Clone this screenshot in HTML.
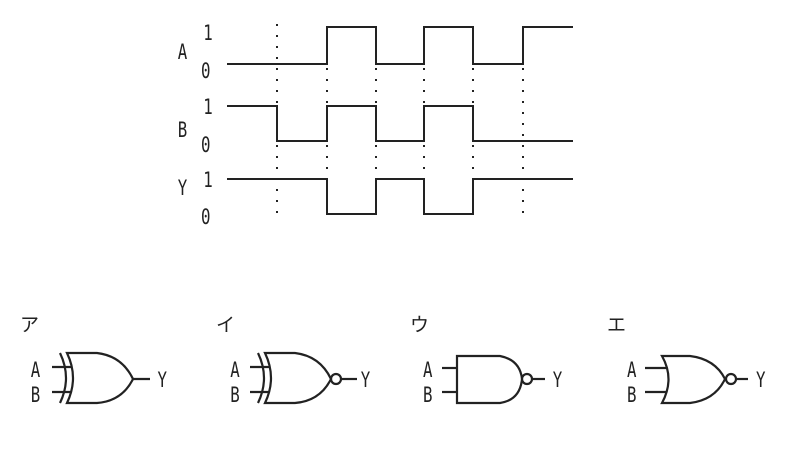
<!DOCTYPE html>
<html><head><meta charset="utf-8"><style>
html,body{margin:0;padding:0;background:#fff;}
svg{display:block;}
.t{font-family:"DejaVu Sans Mono","Liberation Mono",monospace;font-size:21px;fill:#222;}
.j{font-family:"Noto Sans CJK JP",sans-serif;font-size:19px;fill:#222;}
</style></head><body>
<svg width="793" height="453" viewBox="0 0 793 453" xmlns="http://www.w3.org/2000/svg">
<g stroke="#222" stroke-width="2" stroke-dasharray="2 9" fill="none">
<line x1="277" y1="24" x2="277" y2="218"/>
<line x1="523" y1="68" x2="523" y2="218"/>
<line x1="327" y1="68" x2="327" y2="106"/><line x1="327" y1="145" x2="327" y2="179"/>
<line x1="376" y1="68" x2="376" y2="106"/><line x1="376" y1="145" x2="376" y2="179"/>
<line x1="424" y1="68" x2="424" y2="106"/><line x1="424" y1="145" x2="424" y2="179"/>
<line x1="473" y1="68" x2="473" y2="106"/><line x1="473" y1="145" x2="473" y2="179"/>
</g>
<g stroke="#222" stroke-width="2" fill="none">
<polyline points="227,64 327,64 327,27 376,27 376,64 424,64 424,27 473,27 473,64 523,64 523,27 573,27"/>
<polyline points="227,106 277,106 277,141 327,141 327,106 376,106 376,141 424,141 424,106 473,106 473,141 573,141"/>
<polyline points="227,179 327,179 327,214 376,214 376,179 424,179 424,214 473,214 473,179 573,179"/>
</g>
<g class="t" transform="scale(0.75,1)">
<text x="237" y="59">A</text><text x="271" y="40">1</text><text x="268" y="78">0</text>
<text x="237" y="137">B</text><text x="271" y="114">1</text><text x="268" y="152">0</text>
<text x="237" y="195">Y</text><text x="271" y="187">1</text><text x="268" y="224">0</text>
</g>
<g class="j">
<text x="20" y="331">ア</text><text x="216" y="331">イ</text><text x="410" y="331">ウ</text><text x="607" y="331">エ</text>
</g>
<g class="t" transform="scale(0.75,1)">
<text x="41" y="377">A</text><text x="41" y="402">B</text><text x="210" y="387">Y</text>
<text x="307" y="377">A</text><text x="307" y="402">B</text><text x="481" y="387">Y</text>
<text x="564" y="377">A</text><text x="564" y="402">B</text><text x="737" y="387">Y</text>
<text x="836" y="377">A</text><text x="836" y="402">B</text><text x="1008" y="387">Y</text>
</g>
<g stroke="#222" stroke-width="2.2" fill="none">
<g>
<line x1="52" y1="367" x2="72" y2="367"/><line x1="52" y1="392" x2="72" y2="392"/>
<path d="M60,353 Q72,378 60,403"/>
<path d="M67,353 L97,353 Q122,356 133,379 Q122,401 97,403 L67,403 Q79,378 67,353 Z"/>
<line x1="133" y1="379" x2="150" y2="379"/>
</g>
<g transform="translate(198,0)">
<line x1="52" y1="367" x2="72" y2="367"/><line x1="52" y1="392" x2="72" y2="392"/>
<path d="M60,353 Q72,378 60,403"/>
<path d="M67,353 L97,353 Q122,356 133,379 Q122,401 97,403 L67,403 Q79,378 67,353 Z"/>
<circle cx="138" cy="379" r="5"/>
<line x1="143" y1="379" x2="159" y2="379"/>
</g>
<line x1="442" y1="368" x2="457" y2="368"/><line x1="442" y1="392" x2="457" y2="392"/>
<path d="M457,356 L500,356 Q520,360 522,379 Q520,400 500,403 L457,403 Z"/>
<circle cx="527" cy="379" r="5"/>
<line x1="532" y1="379" x2="545" y2="379"/>
<line x1="645" y1="368" x2="667" y2="368"/><line x1="645" y1="392" x2="667" y2="392"/>
<path d="M662,356 L690,356 Q715,359 725,379 Q715,400 690,403 L662,403 Q675,379 662,356 Z"/>
<circle cx="731" cy="379" r="5"/>
<line x1="736" y1="379" x2="748" y2="379"/>
</g>
</svg>
</body></html>
